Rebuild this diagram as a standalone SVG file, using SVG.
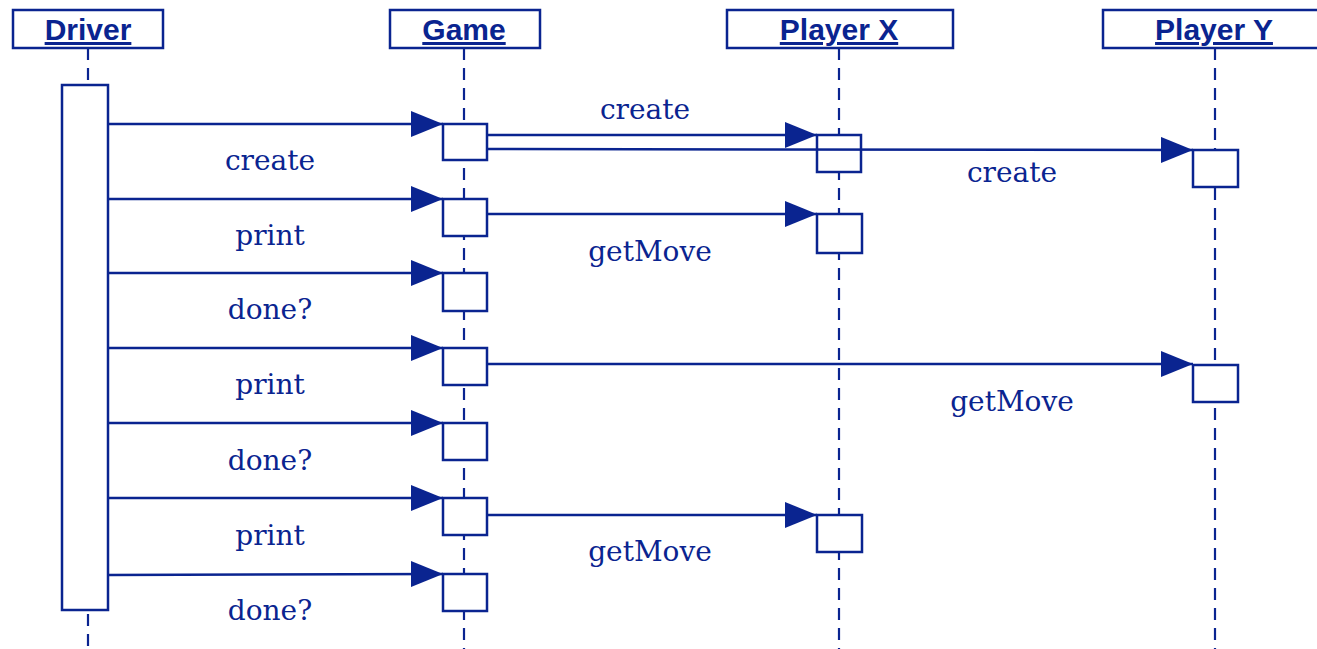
<svg xmlns="http://www.w3.org/2000/svg" width="1317" height="649" viewBox="0 0 1317 649">
<style>
.hdr{fill:#fff;stroke:#0a2490;stroke-width:2.5}
.ht{font-family:"Liberation Sans",Arial,sans-serif;font-weight:bold;font-size:30px;fill:#0a2490;text-anchor:middle;text-decoration:underline}
.life{stroke:#0a2490;stroke-width:2.2;stroke-dasharray:12 8;fill:none}
.act{fill:#fff;stroke:#0a2490;stroke-width:2.5}
.msg{stroke:#0a2490;stroke-width:2.5;fill:none}
.lbl{font-family:"DejaVu Serif","Liberation Serif",serif;font-size:28px;fill:#0a2490;text-anchor:middle}
</style>
<defs>
<marker id="ah" markerUnits="userSpaceOnUse" markerWidth="34" markerHeight="28" refX="32" refY="13" orient="auto">
<path d="M0,0 L32,13 L0,26 Z" fill="#0a2490"/>
</marker>
</defs>
<rect width="1317" height="649" fill="#fff"/>
<g id="lifelines">
<line class="life" x1="88" y1="48" x2="88" y2="85"/>
<line class="life" x1="88" y1="614" x2="88" y2="649"/>
<line class="life" x1="464" y1="48" x2="464" y2="649"/>
<line class="life" x1="839" y1="48" x2="839" y2="649"/>
<line class="life" x1="1215" y1="48" x2="1215" y2="649"/>
</g>
<g id="driver">
<rect class="hdr" x="13" y="10" width="150" height="38"/>
<text class="ht" x="88" y="40">Driver</text>
<rect class="act" x="62" y="85" width="46" height="525"/>
</g>
<g id="game">
<rect class="hdr" x="390" y="10" width="150" height="38"/>
<text class="ht" x="464" y="40">Game</text>
<rect class="act" x="443" y="124" width="44" height="36"/>
<rect class="act" x="443" y="199" width="44" height="37"/>
<rect class="act" x="443" y="273" width="44" height="38"/>
<rect class="act" x="443" y="348" width="44" height="37"/>
<rect class="act" x="443" y="423" width="44" height="37"/>
<rect class="act" x="443" y="498" width="44" height="37"/>
<rect class="act" x="443" y="574" width="44" height="37"/>
</g>
<g id="connectors">
<line class="msg" x1="108" y1="124" x2="443" y2="124" marker-end="url(#ah)"/>
<line class="msg" x1="108" y1="199" x2="443" y2="199" marker-end="url(#ah)"/>
<line class="msg" x1="108" y1="273" x2="443" y2="273" marker-end="url(#ah)"/>
<line class="msg" x1="108" y1="348" x2="443" y2="348" marker-end="url(#ah)"/>
<line class="msg" x1="108" y1="423" x2="443" y2="423" marker-end="url(#ah)"/>
<line class="msg" x1="108" y1="498" x2="443" y2="498" marker-end="url(#ah)"/>
<line class="msg" x1="108" y1="575" x2="443" y2="574" marker-end="url(#ah)"/>
<line class="msg" x1="487" y1="135" x2="817" y2="135" marker-end="url(#ah)"/>
<line class="msg" x1="487" y1="214" x2="817" y2="214" marker-end="url(#ah)"/>
<line class="msg" x1="487" y1="364" x2="1193" y2="364" marker-end="url(#ah)"/>
<line class="msg" x1="487" y1="515" x2="817" y2="515" marker-end="url(#ah)"/>
<text class="lbl" x="270" y="170">create</text>
<text class="lbl" x="270" y="245">print</text>
<text class="lbl" x="270" y="319">done?</text>
<text class="lbl" x="270" y="394">print</text>
<text class="lbl" x="270" y="470">done?</text>
<text class="lbl" x="270" y="545">print</text>
<text class="lbl" x="270" y="620">done?</text>
<text class="lbl" x="645" y="119">create</text>
<text class="lbl" x="650" y="261">getMove</text>
<text class="lbl" x="1012" y="182">create</text>
<text class="lbl" x="1012" y="411">getMove</text>
<text class="lbl" x="650" y="561">getMove</text>
</g>
<g id="playerx">
<rect class="hdr" x="727" y="10" width="226" height="38"/>
<text class="ht" x="839" y="40">Player X</text>
<rect class="act" x="817" y="135" width="44" height="37"/>
<rect class="act" x="817" y="214" width="45" height="39"/>
<rect class="act" x="817" y="515" width="45" height="37"/>
</g>
<g id="connectors-over">
<line class="msg" x1="487" y1="149" x2="1193" y2="150" marker-end="url(#ah)"/>
</g>
<g id="playery">
<rect class="hdr" x="1103" y="10" width="226" height="38"/>
<text class="ht" x="1214" y="40">Player Y</text>
<rect class="act" x="1193" y="150" width="45" height="37"/>
<rect class="act" x="1193" y="365" width="45" height="37"/>
</g>
</svg>
